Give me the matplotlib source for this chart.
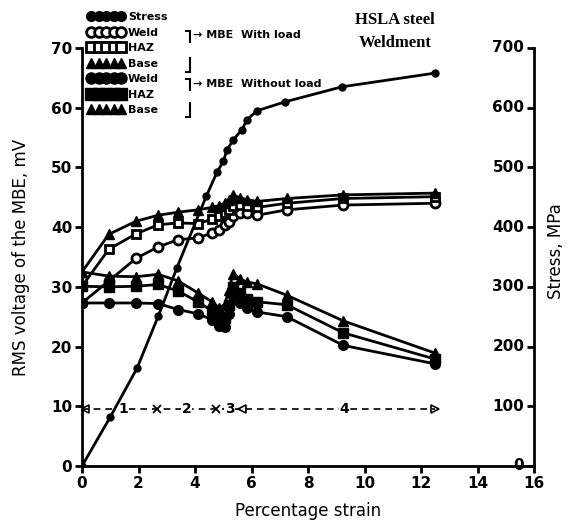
import matplotlib
matplotlib.use("Agg")
import matplotlib.pyplot as plt
import matplotlib.transforms as mtransforms
from matplotlib.lines import Line2D

# ---------------- data ----------------
strain_stress = [0, 1.0, 1.95, 2.7, 3.36, 4.4, 4.78, 5.0, 5.13, 5.35, 5.66, 5.84, 6.2, 7.2, 9.2, 12.5]
stress = [0, 82, 164, 251, 332, 452, 492, 510, 529, 546, 563, 580, 595, 610, 635, 658]

strain_mbe = [0, 0.95, 1.92, 2.7, 3.4, 4.1, 4.6, 4.85, 5.05, 5.2, 5.35, 5.6, 5.85, 6.2, 7.25, 9.25, 12.5]
weld_load = [27.3, 31.0, 34.8, 36.7, 37.9, 38.2, 39.0, 39.6, 40.3, 40.9, 41.8, 42.3, 42.4, 42.0, 42.9, 43.7, 44.0]
haz_load = [30.1, 36.3, 38.9, 40.4, 40.7, 40.6, 41.3, 41.8, 42.3, 42.8, 43.5, 43.7, 43.5, 43.3, 44.0, 44.8, 45.1]
base_load = [32.5, 38.8, 41.0, 42.0, 42.5, 42.9, 43.3, 43.6, 44.0, 44.5, 45.4, 44.9, 44.6, 44.3, 44.8, 45.4, 45.7]
weld_noload = [27.3, 27.3, 27.3, 27.2, 26.2, 25.5, 24.5, 23.5, 23.2, 25.5, 28.5, 27.3, 26.5, 25.8, 25.0, 20.2, 17.1]
haz_noload = [30.1, 30.0, 30.1, 30.4, 29.3, 27.5, 26.0, 25.0, 24.8, 27.0, 30.0, 29.0, 28.0, 27.5, 27.0, 22.3, 17.9]
base_noload = [32.5, 31.8, 31.7, 32.1, 31.0, 29.0, 27.5, 26.5, 27.0, 29.5, 32.2, 31.3, 30.8, 30.5, 28.6, 24.3, 18.9]

region_level = 9.5
region_end = 12.5
region_sep = [2.65, 4.74]
region_open = 5.66
region_labels = ["1", "2", "3", "4"]
region_label_x = [1.45, 3.7, 5.22, 9.3]

x_ticks = [0, 2, 4, 6, 8, 10, 12, 14, 16]
y_ticks = [0, 10, 20, 30, 40, 50, 60, 70]
y2_ticks = [0, 100, 200, 300, 400, 500, 600, 700]

# ---------------- figure ----------------
W, H = 567, 527
fig = plt.figure(figsize=(W / 100, H / 100), dpi=100)
rect = [82 / W, (H - 466) / H, (534 - 82) / W, (466 - 48) / H]
ax = fig.add_axes(rect)
ax2 = fig.add_axes(rect)
ax2.patch.set_visible(False)

lw = 2.0
ms = 6.5
mew = 2.0
k = "black"

# with load (open markers)
ax.plot(strain_mbe, weld_load, "-", color=k, lw=lw, marker="o", ms=ms, mfc="white", mec=k, mew=mew, zorder=3)
ax.plot(strain_mbe, haz_load, "-", color=k, lw=lw, marker="s", ms=ms - 0.5, mfc="white", mec=k, mew=mew, zorder=3)
ax.plot(strain_mbe, base_load, "-", color=k, lw=lw, marker="^", ms=ms + 1, mfc=k, mec=k, mew=1, zorder=3)
# without load (filled markers)
ax.plot(strain_mbe, weld_noload, "-", color=k, lw=lw, marker="o", ms=ms + 0.5, mfc=k, mec=k, zorder=3)
ax.plot(strain_mbe, haz_noload, "-", color=k, lw=lw, marker="s", ms=ms, mfc=k, mec=k, zorder=3)
ax.plot(strain_mbe, base_noload, "-", color=k, lw=lw, marker="^", ms=ms + 1, mfc=k, mec=k, zorder=3)

# stress on the second (right) axis
ax2.plot(strain_stress, stress, "-", color=k, lw=lw, marker="o", ms=5, mfc=k, mec=k, zorder=4)

# region line
ax.plot([0, region_end], [region_level, region_level], ls=(0, (4, 3)), color=k, lw=1.2, zorder=2)
ax.plot([0.12], [region_level], marker="<", ms=6, mfc="none", mec=k, mew=1.2, zorder=2)
ax.plot([region_end], [region_level], marker=">", ms=6, mfc="none", mec=k, mew=1.2, zorder=2)
ax.plot(region_sep, [region_level] * len(region_sep), "x", ms=6, mew=1.3, color=k, zorder=2)
ax.plot([region_open], [region_level], marker="<", ms=6, mfc="none", mec=k, mew=1.2, zorder=2)
for lab, xx in zip(region_labels, region_label_x):
    ax.text(xx, region_level, lab, ha="center", va="center", fontsize=10, fontweight="bold",
            bbox=dict(facecolor="white", edgecolor="none", pad=0.5), zorder=3)

# axes styling
ax.set_xlim(0, 16)
ax.set_ylim(0, 70)
ax2.set_xlim(0, 16)
ax2.set_ylim(0, 700)
ax.spines["top"].set_visible(False)
ax.spines["right"].set_visible(False)
for s in ("left", "bottom"):
    ax.spines[s].set_linewidth(2)
for s in ("top", "left", "bottom"):
    ax2.spines[s].set_visible(False)
ax2.spines["right"].set_linewidth(2)
ax2.xaxis.set_visible(False)
ax2.yaxis.tick_right()

ax.set_xticks(x_ticks)
ax.set_yticks(y_ticks)
ax2.set_yticks(y2_ticks)
ax.set_xticklabels([str(v) for v in x_ticks], fontsize=11, fontweight="bold")
ax.set_yticklabels([str(v) for v in y_ticks], fontsize=11, fontweight="bold")
ax.tick_params(axis="both", direction="out", length=5, width=2, pad=2)
# right scale: ticks point inward, numbers sit just left of the spine
ax2.tick_params(axis="y", direction="in", length=5, width=2, labelright=False, labelleft=False)
lab_tr = mtransforms.offset_copy(ax2.get_yaxis_transform(), fig=fig, x=-7, y=0, units="points")
for v in y2_ticks:
    ax2.text(1.0, v, str(v), transform=lab_tr, ha="right", va="center",
             fontsize=11, fontweight="bold", clip_on=False)

ax.set_xlabel("Percentage strain", fontsize=12, labelpad=8)
ax.set_ylabel("RMS voltage of the MBE, mV", fontsize=12)
ax.yaxis.set_label_coords(-0.135, 0.5)
ax.yaxis.label.set_va("center")
ax2.yaxis.set_label_position("right")
ax2.set_ylabel("Stress, MPa", fontsize=12)
ax2.yaxis.set_label_coords(1.048, 0.515)
ax2.yaxis.label.set_va("center")
ax2.yaxis.label.set_ha("center")

# legend
handles = [
    Line2D([], [], ls="-", color=k, lw=1.5, marker="o", ms=7, mfc=k, mec=k),
    Line2D([], [], ls="-", color=k, lw=1.5, marker="o", ms=7, mfc="white", mec=k, mew=2),
    Line2D([], [], ls="-", color=k, lw=1.5, marker="s", ms=7, mfc="white", mec=k, mew=2),
    Line2D([], [], ls="none", color=k, marker="^", ms=7, mfc=k, mec=k),
    Line2D([], [], ls="-", color=k, lw=1.5, marker="o", ms=8, mfc=k, mec=k),
    Line2D([], [], ls="-", color=k, lw=1.5, marker="s", ms=8, mfc=k, mec=k),
    Line2D([], [], ls="none", color=k, marker="^", ms=7, mfc=k, mec=k),
]
labels = ["Stress", "Weld", "HAZ", "Base", "Weld", "HAZ", "Base"]
leg = fig.legend(handles, labels, loc="upper left", bbox_to_anchor=(88 / W, 1 - 12 / H),
                 numpoints=5, handlelength=3.3, handletextpad=0.3, labelspacing=0.5,
                 frameon=False, borderpad=0.0, borderaxespad=0,
                 prop=dict(size=8, weight="bold"))

# brackets
def fline(x0, y0, x1, y1):
    fig.add_artist(Line2D([x0 / W, x1 / W], [1 - y0 / H, 1 - y1 / H], color=k, lw=1.5,
                          transform=fig.transFigure))

bx = 190
fline(bx - 4, 31, bx, 31); fline(bx, 31, bx, 42)
fline(bx, 58, bx, 72); fline(bx - 4, 72, bx, 72)
fline(bx - 4, 79, bx, 79); fline(bx, 79, bx, 90)
fline(bx, 103, bx, 117); fline(bx - 4, 117, bx, 117)
fig.text(193 / W, 1 - 35 / H, "\u2192 MBE  With load", fontsize=8, fontweight="bold", va="center")
fig.text(193 / W, 1 - 84 / H, "\u2192 MBE  Without load", fontsize=8, fontweight="bold", va="center")

fig.text(395 / W, 1 - 20 / H, "HSLA steel", fontsize=12, fontweight="bold",
         family="Liberation Serif", ha="center", va="center")
fig.text(395 / W, 1 - 43 / H, "Weldment", fontsize=12, fontweight="bold",
         family="Liberation Serif", ha="center", va="center")

fig.savefig("out.png", dpi=100)
